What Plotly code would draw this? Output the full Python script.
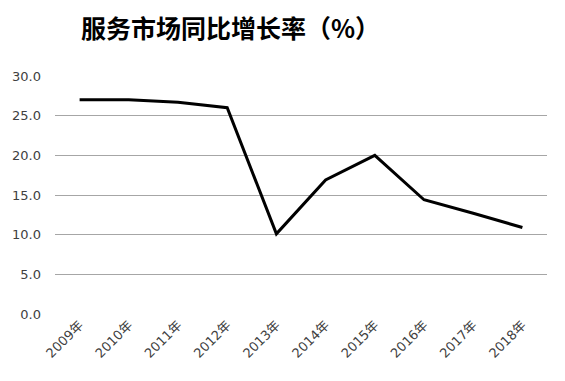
import plotly.graph_objects as go

years = ["2009年", "2010年", "2011年", "2012年", "2013年", "2014年", "2015年", "2016年", "2017年", "2018年"]
growth = [27.0, 27.0, 26.7, 26.0, 10.1, 16.9, 20.0, 14.4, 12.7, 10.9]
y_ticks = [0, 5, 10, 15, 20, 25, 30]
y_labels = ["0.0", "5.0", "10.0", "15.0", "20.0", "25.0", "30.0"]
title_text = "服务市场同比增长率（%）"

fig = go.Figure()
fig.add_trace(go.Scatter(
    x=years, y=growth, mode="lines",
    line=dict(color="black", width=3),
    showlegend=False,
))

fig.update_layout(
    width=557, height=373,
    margin=dict(l=47, r=18, t=68, b=67),
    paper_bgcolor="white", plot_bgcolor="white",
    font=dict(family="DejaVu Sans, Noto Sans CJK SC, sans-serif", color="#404040"),
    annotations=[dict(
        text="<b>" + title_text + "</b>", xref="paper", yref="paper",
        x=(222 - 47) / 492, y=1, yshift=49, yanchor="middle", xanchor="center",
        showarrow=False, borderpad=0,
        font=dict(family="Noto Sans CJK SC, sans-serif", size=25, color="black"),
    )],
)
fig.update_xaxes(
    type="category", range=[-0.5, 9.5], automargin=False,
    showgrid=False, showline=False, zeroline=False,
    tickangle=-45, tickfont=dict(size=13, color="#404040", family="DejaVu Sans, Noto Sans CJK SC, sans-serif"),
    ticks="",
)
fig.update_yaxes(
    range=[0, 30], tickvals=y_ticks, ticktext=y_labels, automargin=False,
    showgrid=True, gridcolor="#a6a6a6", gridwidth=1,
    zeroline=False, showline=False, ticks="",
    tickfont=dict(size=13, color="#404040"),
    ticklabelstandoff=13,
)
fig.write_html("out.html")
